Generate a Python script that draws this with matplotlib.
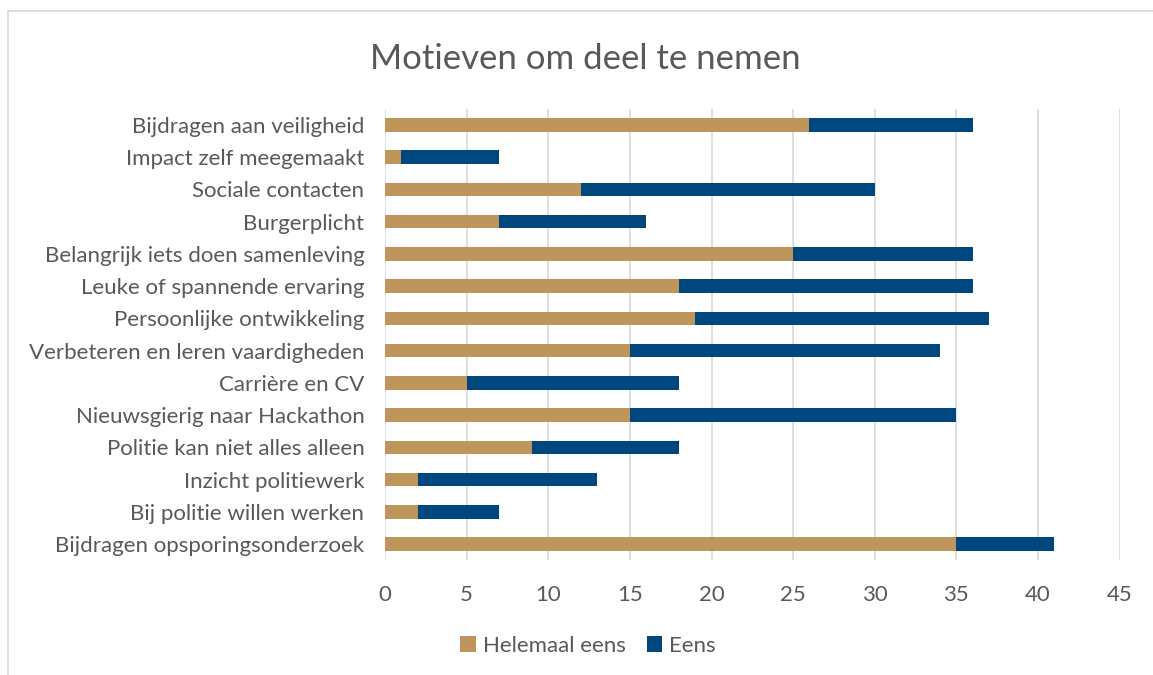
import matplotlib.pyplot as plt
from matplotlib.lines import Line2D

# data, top to bottom as shown in the chart
motieven = ['Bijdragen aan veiligheid', 'Impact zelf meegemaakt', 'Sociale contacten',
            'Burgerplicht', 'Belangrijk iets doen samenleving', 'Leuke of spannende ervaring',
            'Persoonlijke ontwikkeling', 'Verbeteren en leren vaardigheden', 'Carrière en CV',
            'Nieuwsgierig naar Hackathon', 'Politie kan niet alles alleen', 'Inzicht politiewerk',
            'Bij politie willen werken', 'Bijdragen opsporingsonderzoek']
helemaal_eens = [26, 1, 12, 7, 25, 18, 19, 15, 5, 15, 9, 2, 2, 35]
eens = [10, 6, 18, 9, 11, 18, 18, 19, 13, 20, 9, 11, 5, 6]
x_ticks = [0, 5, 10, 15, 20, 25, 30, 35, 40, 45]

tan = '#BE955A'
blue = '#00467F'
grey_text = '#595959'

plt.rcParams['font.family'] = ['Lato', 'DejaVu Sans']

fig = plt.figure(figsize=(11.53, 6.75), dpi=100)
ax = fig.add_axes([0.334, 0.170, 0.637, 0.669])

pos = list(range(len(motieven)))
ax.barh(pos, helemaal_eens, height=0.42, color=tan, label='Helemaal eens', zorder=3)
ax.barh(pos, eens, left=helemaal_eens, height=0.42, color=blue, label='Eens', zorder=3)

ax.set_ylim(len(motieven) - 0.5, -0.5)
ax.set_xlim(0, 45)
ax.set_xticks(x_ticks)
ax.set_yticks(pos)
ax.set_yticklabels(motieven)
ax.tick_params(axis='both', length=0, labelsize=16, colors=grey_text)
ax.tick_params(axis='y', pad=15)
ax.tick_params(axis='x', pad=18)
ax.grid(axis='x', color='#d9d9d9', linewidth=1.2, zorder=0)
for s in ax.spines.values():
    s.set_visible(False)

fig.text(0.508, 0.913, 'Motieven om deel te nemen', ha='center', va='center',
         fontsize=25, color=grey_text)

h, l = ax.get_legend_handles_labels()
fig.legend(h, l, loc='center', bbox_to_anchor=(0.510, 0.043), ncol=2,
           frameon=False, fontsize=16, labelcolor=grey_text, handlelength=0.7,
           handleheight=0.7, columnspacing=0.97, handletextpad=0.3)

# outer chart border (light grey)
fig.add_artist(Line2D([0.007, 0.007], [0.0, 0.984], color='#d9d9d9', linewidth=1.2))
fig.add_artist(Line2D([0.007, 1.0], [0.984, 0.984], color='#d9d9d9', linewidth=1.2))

fig.savefig('out.png', dpi=100)
